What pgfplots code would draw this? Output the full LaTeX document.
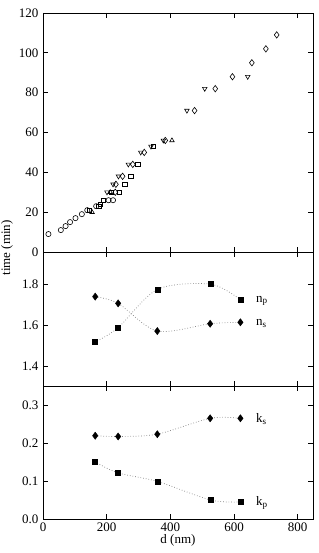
\documentclass[border=0pt]{standalone}
\usepackage{pgfplots}
\pgfplotsset{compat=1.18}
\usepackage{fontspec}
\setmainfont{Liberation Serif}
\begin{document}
\fontsize{13}{15}\selectfont
\begin{tikzpicture}
\path[use as bounding box] (0pt,0pt) rectangle (318pt,553pt);
\pgfplotsset{
  every axis/.append style={
    scale only axis, width=270pt,
    xmin=0, xmax=848,
    xtick={0,200,400,600,800},
    tick align=inside, major tick length=5pt,
    tick style={black, line width=0.8pt},
    axis line style={line width=0.9pt},
    /pgf/number format/assume math mode=true,
    tick label style={font=\fontsize{13}{15}\selectfont},
    label style={font=\fontsize{13}{15}\selectfont},
    anchor=south west,
  },
  openm/.style={only marks, black, mark size=2.6pt, mark options={fill=white, line width=0.6pt}},
  curve/.style={gray, dotted, line width=0.7pt, smooth, no marks},
}
% bottom panel
\begin{axis}[at={(43pt,34pt)}, height=132.5pt,
  ymin=0, ymax=0.35, ytick={0,0.1,0.2,0.3},
  yticklabel style={/pgf/number format/.cd, fixed, fixed zerofill, precision=1},
  xticklabel style={yshift=1pt},
  xlabel={d (nm)}, xlabel style={yshift=6pt}]
\addplot[curve] coordinates {(164,0.220) (236,0.218) (359,0.224) (525,0.266) (620,0.266)};
\addplot[curve] coordinates {(163,0.151) (235,0.122) (360,0.099) (527,0.050) (620,0.045)};
\addplot[only marks, mark=diamond*, mark size=3.6pt, black] coordinates {(164,0.220) (236,0.218) (359,0.224) (525,0.266) (620,0.266)};
\addplot[only marks, mark=square*, mark size=2.5pt, black] coordinates {(163,0.151) (235,0.122) (360,0.099) (527,0.050) (620,0.045)};
\node[anchor=west] at (axis cs:655,0.265) {k\textsubscript{s}};
\node[anchor=west] at (axis cs:655,0.042) {k\textsubscript{p}};
\end{axis}
% middle panel
\begin{axis}[at={(43pt,166.5pt)}, height=134.5pt,
  ymin=1.3, ymax=1.96, ytick={1.4,1.6,1.8},
  yticklabel style={/pgf/number format/.cd, fixed, fixed zerofill, precision=1},
  xticklabels={}]
\addplot[curve] coordinates {(164,1.741) (236,1.708) (359,1.572) (525,1.608) (620,1.615)};
\addplot[curve] coordinates {(163,1.518) (235,1.587) (360,1.777) (527,1.802) (620,1.726)};
\addplot[only marks, mark=diamond*, mark size=3.6pt, black] coordinates {(164,1.741) (236,1.708) (359,1.572) (525,1.608) (620,1.615)};
\addplot[only marks, mark=square*, mark size=2.5pt, black] coordinates {(163,1.518) (235,1.587) (360,1.777) (527,1.802) (620,1.726)};
\node[anchor=west] at (axis cs:655,1.72) {n\textsubscript{p}};
\node[anchor=west] at (axis cs:655,1.61) {n\textsubscript{s}};
\end{axis}
% top panel
\begin{axis}[at={(43pt,301pt)}, height=239pt,
  ymin=0, ymax=120, ytick={0,20,40,60,80,100,120},
  xticklabels={}]
\addplot[openm, mark=o] coordinates {(17,9) (56,11) (71,13) (85,15) (102,17) (122,19) (139,21) (167,23) (206,26) (220,26)};
\addplot[openm, mark=square, mark size=2.3pt] coordinates {(145,21) (175,23) (180,24) (190,26) (215,30) (240,30) (256,34) (276,38) (297,44) (347,53)};
\addplot[openm, mark=triangle] coordinates {(154,20) (211,30) (405,56)};
\addplot[openm, mark=triangle, mark options={rotate=180, fill=white, line width=0.6pt}] coordinates {(201,30) (220,34) (237,38) (268,44) (307,50) (339,53) (378,56) (452,71) (508,82) (643,88)};
\addplot[openm, mark=diamond, mark size=3.2pt] coordinates {(227,30) (229,34) (250,38) (282,44) (318,50) (384,56) (476,71) (541,82) (595,88) (656,95) (700,102) (734,109)};
\end{axis}
\node[rotate=90] at (7pt,305pt) {time (min)};
\end{tikzpicture}
\end{document}
